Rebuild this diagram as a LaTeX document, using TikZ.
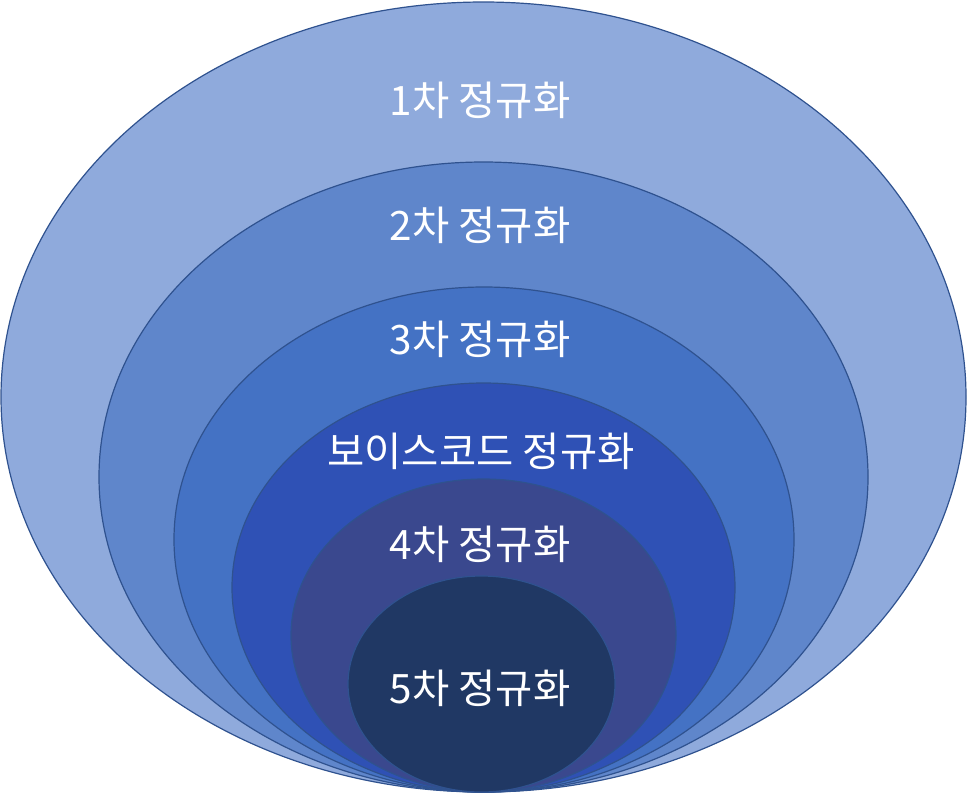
\documentclass[tikz,border=0pt]{standalone}
\usepackage{fontspec}
\newfontfamily\kr{Noto Sans CJK KR}
\definecolor{c1}{HTML}{8FAADC}
\definecolor{c2}{HTML}{5F86CB}
\definecolor{c3}{HTML}{4472C4}
\definecolor{c4}{HTML}{2F51B5}
\definecolor{c5}{HTML}{3A488E}
\definecolor{c6}{HTML}{203864}
\definecolor{edge}{HTML}{2F528F}
\tikzset{ell/.style={draw=edge,line width=1.2pt},
lbl/.style={text=white,font=\kr\fontsize{40.5}{46}\selectfont,inner sep=0pt,anchor=center}}
\begin{document}
\begin{tikzpicture}[x=1pt,y=-1pt]
\useasboundingbox (0,0) rectangle (968,796);
\filldraw[ell,fill=c1] (483.5,397) ellipse [x radius=482.5,y radius=395];
\filldraw[ell,fill=c2] (483.5,477) ellipse [x radius=384.5,y radius=315];
\filldraw[ell,fill=c3] (484,539.5) ellipse [x radius=310,y radius=252.5];
\filldraw[ell,fill=c4] (483.5,587.5) ellipse [x radius=251.5,y radius=204.5];
\filldraw[ell,fill=c5] (483.5,635.5) ellipse [x radius=192.5,y radius=156.5];
\filldraw[ell,fill=c6] (481.5,684) ellipse [x radius=133.5,y radius=108];
\node[lbl] (t1) at (480,100) {1차 정규화};
\node[lbl] (t2) at (480,225) {2차 정규화};
\node[lbl] (t3) at (480,339) {3차 정규화};
\node[lbl] (t4) at (481,451) {보이스코드 정규화};
\node[lbl] (t5) at (480,544) {4차 정규화};
\node[lbl] (t6) at (480,688) {5차 정규화};
\end{tikzpicture}
\end{document}
